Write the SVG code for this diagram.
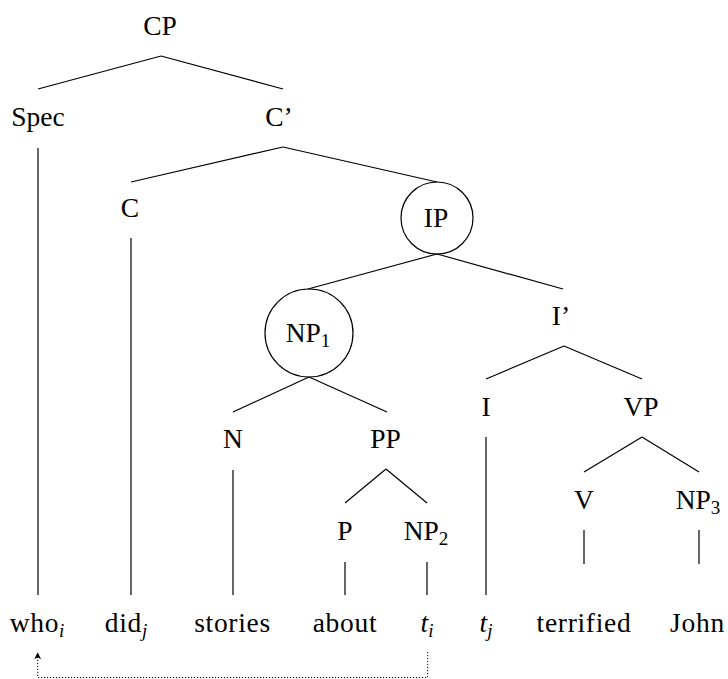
<svg xmlns="http://www.w3.org/2000/svg" width="728" height="679" viewBox="0 0 728 679">
<style>
text{font-family:'Liberation Serif','Times New Roman',serif;font-size:27.5px;fill:#000;text-anchor:middle}
.w{letter-spacing:0.7px}
.sub{font-size:19px;letter-spacing:0}
.it{font-style:italic}
.edge{stroke:#000;stroke-width:1.2;fill:none}
.circ{stroke:#000;stroke-width:1.2;fill:none}
.mv{stroke:#000;stroke-width:1;fill:none;stroke-dasharray:1.2 1.8}
</style>
<defs>
<marker id="ah" viewBox="0 0 10 10" refX="9" refY="5" markerWidth="7" markerHeight="7" orient="auto" markerUnits="userSpaceOnUse">
<path d="M0,0 L10,5 L0,10 L3,5 Z" fill="#000"/>
</marker>
</defs>
<g id="connectors">
<line class="edge" x1="161" y1="56" x2="38" y2="89"/>
<line class="edge" x1="161" y1="56" x2="283" y2="89"/>
<line class="edge" x1="38" y1="148" x2="38" y2="595"/>
<line class="edge" x1="283" y1="147" x2="131" y2="182"/>
<line class="edge" x1="283" y1="147" x2="437" y2="182"/>
<line class="edge" x1="131" y1="238" x2="131" y2="595"/>
<line class="edge" x1="437" y1="254" x2="308" y2="289"/>
<line class="edge" x1="437" y1="254" x2="563" y2="289"/>
<line class="edge" x1="309" y1="377" x2="233" y2="412"/>
<line class="edge" x1="309" y1="377" x2="387" y2="412"/>
<line class="edge" x1="233" y1="470" x2="233" y2="595"/>
<line class="edge" x1="386" y1="469" x2="345" y2="503"/>
<line class="edge" x1="386" y1="469" x2="427" y2="503"/>
<line class="edge" x1="345" y1="562" x2="345" y2="595"/>
<line class="edge" x1="427" y1="562" x2="427" y2="595"/>
<line class="edge" x1="564" y1="346" x2="486" y2="379"/>
<line class="edge" x1="564" y1="346" x2="642" y2="379"/>
<line class="edge" x1="486" y1="437" x2="486" y2="595"/>
<line class="edge" x1="642" y1="437" x2="584" y2="472"/>
<line class="edge" x1="642" y1="437" x2="699" y2="472"/>
<line class="edge" x1="584" y1="530" x2="584" y2="564"/>
<line class="edge" x1="699" y1="530" x2="699" y2="564"/>
<path class="mv" d="M427.7,652 V677.5 H37.7 V653" marker-end="url(#ah)"/>
</g>
<g id="CP"><text x="160" y="35">CP</text></g>
<g id="Spec"><text x="38" y="126">Spec</text></g>
<g id="Cbar"><text x="279" y="126">C’</text></g>
<g id="C"><text x="130" y="217">C</text></g>
<g id="IP"><circle class="circ" cx="437" cy="218" r="36"/><text x="436" y="227">IP</text></g>
<g id="NP1"><circle class="circ" cx="309" cy="333" r="44"/><text x="308" y="342">NP<tspan class="sub" dy="5">1</tspan></text></g>
<g id="Ibar"><text x="561" y="325">I’</text></g>
<g id="N"><text x="233" y="448">N</text></g>
<g id="PP"><text x="385.5" y="448">PP</text></g>
<g id="I"><text x="486" y="416">I</text></g>
<g id="VP"><text x="641" y="416">VP</text></g>
<g id="P"><text x="345" y="540">P</text></g>
<g id="NP2"><text x="426" y="540">NP<tspan class="sub" dy="5">2</tspan></text></g>
<g id="V"><text x="584" y="509">V</text></g>
<g id="NP3"><text x="698" y="509">NP<tspan class="sub" dy="5">3</tspan></text></g>
<g id="who"><text class="w" x="37" y="632">who<tspan class="sub it" dy="5">i</tspan></text></g>
<g id="did"><text class="w" x="126" y="632">did<tspan class="sub it" dy="5">j</tspan></text></g>
<g id="stories"><text class="w" x="232.5" y="632">stories</text></g>
<g id="about"><text class="w" x="345" y="632">about</text></g>
<g id="ti"><text x="427" y="632"><tspan class="it">t</tspan><tspan class="sub it" dy="5">i</tspan></text></g>
<g id="tj"><text x="486" y="632"><tspan class="it">t</tspan><tspan class="sub it" dy="5">j</tspan></text></g>
<g id="terrified"><text class="w" x="584" y="632">terrified</text></g>
<g id="John"><text class="w" x="697.5" y="632">John</text></g>
</svg>
